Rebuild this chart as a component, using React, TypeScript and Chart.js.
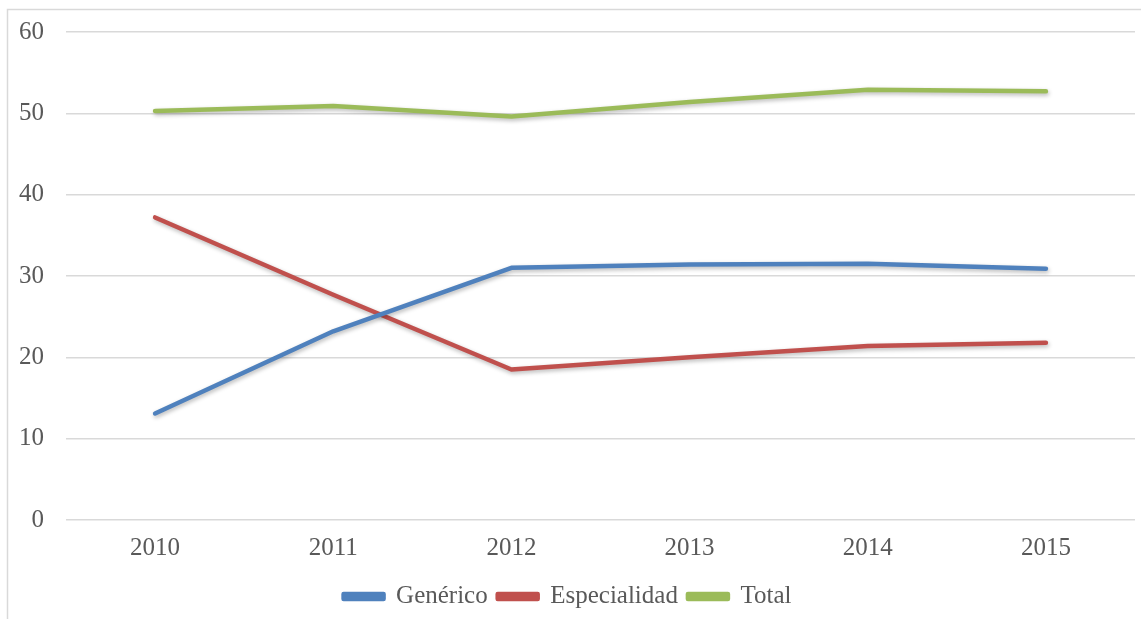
import React, { useEffect, useRef } from "react";
import { Chart, registerables } from "chart.js";

Chart.register(...registerables);

const years = ["2010", "2011", "2012", "2013", "2014", "2015"];
const generico = [13.1, 23.2, 31.0, 31.4, 31.5, 30.9];
const especialidad = [37.2, 27.7, 18.5, 20.0, 21.4, 21.8];
const total = [50.3, 50.9, 49.6, 51.4, 52.9, 52.7];
const yTicks = [0, 10, 20, 30, 40, 50, 60];

const FONT = "'Liberation Serif', 'Times New Roman', serif";
const TEXT = "#595959";
const GRID = "#d9d9d9";

const framePlugin = {
  id: "frame",
  beforeDraw(chart: any) {
    const ctx = chart.ctx;
    ctx.save();
    ctx.fillStyle = "#ffffff";
    ctx.fillRect(0, 0, chart.width, chart.height);
    ctx.strokeStyle = GRID;
    ctx.lineWidth = 1.5;
    ctx.beginPath();
    ctx.moveTo(7.5, chart.height);
    ctx.lineTo(7.5, 9.5);
    ctx.lineTo(chart.width, 9.5);
    ctx.stroke();
    ctx.restore();
  },
};

const shadowPlugin = {
  id: "lineShadow",
  beforeDatasetsDraw(chart: any) {
    const ctx = chart.ctx;
    ctx.save();
    ctx.shadowColor = "rgba(0,0,0,0.28)";
    ctx.shadowBlur = 4;
    ctx.shadowOffsetX = 1;
    ctx.shadowOffsetY = 2;
  },
  afterDatasetsDraw(chart: any) {
    chart.ctx.restore();
  },
};

export default function App() {
  const ref = useRef<HTMLCanvasElement>(null);

  useEffect(() => {
    if (!ref.current) return;
    const mk = (label: string, data: number[], color: string) => ({
      label,
      data,
      borderColor: color,
      backgroundColor: color,
      borderWidth: 4.5,
      tension: 0,
      pointRadius: 0,
      pointHoverRadius: 0,
      borderCapStyle: "round" as const,
      borderJoinStyle: "round" as const,
      fill: false,
    });
    const chart = new Chart(ref.current, {
      type: "line",
      data: {
        labels: years,
        datasets: [
          mk("Genérico", generico, "#4F81BD"),
          mk("Especialidad", especialidad, "#C0504D"),
          mk("Total", total, "#9BBB59"),
        ],
      },
      options: {
        animation: false,
        responsive: false,
        maintainAspectRatio: false,
        layout: { padding: { left: 0, right: 6, top: 32, bottom: 0 } },
        plugins: {
          tooltip: { enabled: false },
          legend: {
            position: "bottom",
            labels: {
              font: { family: FONT, size: 25 },
              color: TEXT,
              boxWidth: 40,
              boxHeight: 5,
              padding: 10,
            },
          },
        },
        scales: {
          x: {
            offset: true,
            grid: { display: false, drawTicks: false },
            border: { display: false },
            ticks: {
              font: { family: FONT, size: 25 },
              color: TEXT,
              padding: 13,
            },
            afterFit(scale: any) {
              scale.height = 54;
              scale.paddingLeft = 0;
              scale.paddingRight = 0;
            },
          },
          y: {
            min: 0,
            max: 60,
            afterBuildTicks(scale: any) {
              scale.ticks = yTicks.map((v) => ({ value: v }));
            },
            grid: { color: GRID, lineWidth: 1.5, drawTicks: false },
            border: { display: false },
            ticks: {
              font: { family: FONT, size: 25 },
              color: TEXT,
              padding: 22,
            },
            afterFit(scale: any) {
              scale.width = 66;
              scale.paddingTop = 0;
              scale.paddingBottom = 0;
            },
          },
        },
      },
      plugins: [framePlugin, shadowPlugin],
    });
    return () => chart.destroy();
  }, []);

  return (
    <div style={{ position: "absolute", left: 0, top: 0, width: 1141, height: 619 }}>
      <canvas ref={ref} width={1141} height={619} style={{ display: "block" }} />
    </div>
  );
}
